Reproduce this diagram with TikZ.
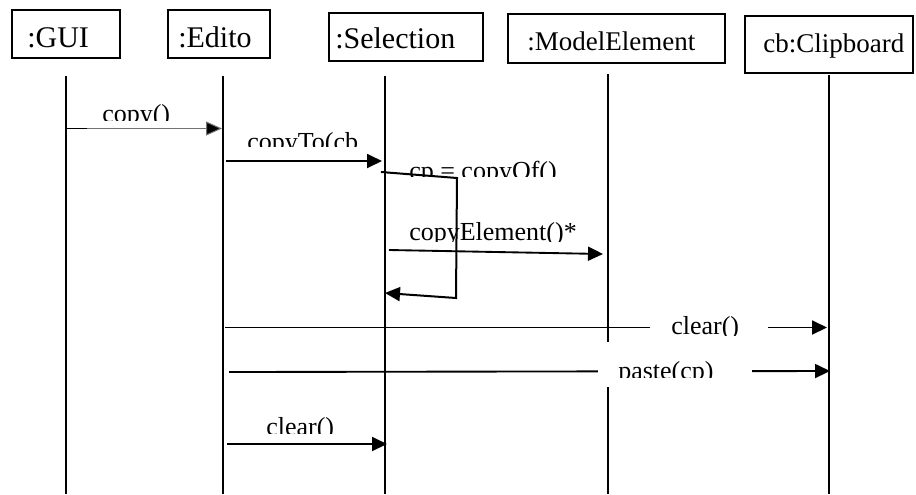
\documentclass[tikz,border=0pt]{standalone}
\usepackage{fontspec}
\setmainfont{Liberation Serif}
\usetikzlibrary{arrows.meta}
\begin{document}
\begin{tikzpicture}[x=0.75pt,y=-0.75pt,
  objbox/.style={draw=black, line width=1.2pt, inner sep=0pt},
  objtext/.style={anchor=base west, inner sep=0pt, font=\fontsize{22.5pt}{27pt}\selectfont},
  objtextsm/.style={anchor=base west, inner sep=0pt, font=\fontsize{20.25pt}{24pt}\selectfont},
  lifeline/.style={line width=1.2pt},
  msg/.style={line width=1.4pt, -{Triangle[length=11.25pt,width=10.5pt]}},
  msgtext/.style={anchor=base west, inner sep=0pt, font=\fontsize{19.5pt}{23pt}\selectfont},
  mask/.style={fill=white, draw=none}
]
\useasboundingbox (0,0) rectangle (916,494);

% object boxes
\node[objbox, minimum width=81pt,     minimum height=36pt]    (gui) at (66,34)    {};
\node[objbox, minimum width=76.5pt,   minimum height=36pt]    (ed)  at (219,34)   {};
\node[objbox, minimum width=115.5pt,  minimum height=36pt]    (sel) at (406,37)   {};
\node[objbox, minimum width=162.75pt, minimum height=36.75pt] (me)  at (616.5,38.5) {};
\node[objbox, minimum width=126pt,    minimum height=42.75pt] (cb)  at (829,44.5) {};

\node[objtext]   (guiname) at (27,47)    {:GUI};
\node[objtext]   (edname)  at (178,47)   {:Edito};
\node[objtext]   (selname) at (335,48.3) {:Selection};
\node[objtextsm] (mename)  at (527,50)   {:ModelElement};
\node[objtextsm] (cbname)  at (763,52.7) {cb:Clipboard};

% lifelines
\coordinate (gui-t) at (66,76);   \coordinate (gui-b) at (66,494);
\coordinate (ed-t)  at (223,76);  \coordinate (ed-b)  at (223,494);
\coordinate (sel-t) at (385,76);  \coordinate (sel-b) at (385,494);
\coordinate (me-t)  at (608,74);  \coordinate (me-b)  at (608,494);
\coordinate (cb-t)  at (829,75);  \coordinate (cb-b)  at (829,494);
\foreach \o in {gui,ed,sel,me,cb}
  \draw[lifeline] (\o-t) -- (\o-b);

% message end points
\coordinate (m1s) at (66,128.5);  \coordinate (m1k) at (87,128.5);  \coordinate (m1e) at (222,128.5);
\coordinate (m2s) at (226,161);   \coordinate (m2e) at (382,161);
\coordinate (s1)  at (381,172);   \coordinate (s2)  at (457,178);
\coordinate (s3)  at (456,298);   \coordinate (s4)  at (385,293);
\coordinate (m4s) at (389,250);   \coordinate (m4e) at (603,254);
\coordinate (m5s) at (225,327.5); \coordinate (m5e) at (827,327.5);
\coordinate (m6s) at (229,372);   \coordinate (m6e) at (830,371);
\coordinate (m7s) at (227,444);   \coordinate (m7e) at (387,444);

% messages
\draw[msg, line width=0.75pt, draw=black!55, -{Triangle[length=12pt,width=10.5pt,fill=black]}] (m1s) -- (m1e);
\draw[line width=1.2pt] (m1s) -- (m1k);
\draw[msg] (m2s) -- (m2e);
\draw[msg] (m4s) -- (m4e);
\draw[msg] (m5s) -- (m5e);
\draw[msg] (m6s) -- (m6e);
\draw[msg] (m7s) -- (m7e);

% label backgrounds that break the long messages
\path[mask] (650,312) rectangle (768,341);
\path[mask] (598,342) rectangle (752,387);

% message labels, cut off at the foot
\begin{scope}\clip (90,95) rectangle (200,120);
  \node[msgtext] (l1) at (102,122.6) {copy()};
\end{scope}
\begin{scope}\clip (240,125) rectangle (356,146.7);
  \node[msgtext] (l2) at (247,150.2) {copyTo(cb)};
\end{scope}
\begin{scope}\clip (400,155) rectangle (600,176.7);
  \node[msgtext] (l3) at (409,179.3) {cp = copyOf()};
\end{scope}
\begin{scope}\clip (400,215) rectangle (600,241.5);
  \node[msgtext] (l4) at (409,240.5) {copyElement()*};
\end{scope}
\begin{scope}\clip (660,305) rectangle (760,335);
  \node[msgtext] (l5) at (671,334.8) {clear()};
\end{scope}
\begin{scope}\clip (605,350) rectangle (745,377);
  \node[msgtext] (l6) at (618,379) {paste(cp)};
\end{scope}
\begin{scope}\clip (255,405) rectangle (360,433);
  \node[msgtext] (l7) at (266,435.8) {clear()};
\end{scope}

% self call on the selection
\draw[msg, line width=1.5pt] (s1) -- (s2) -- (s3) -- (s4);
\end{tikzpicture}
\end{document}
